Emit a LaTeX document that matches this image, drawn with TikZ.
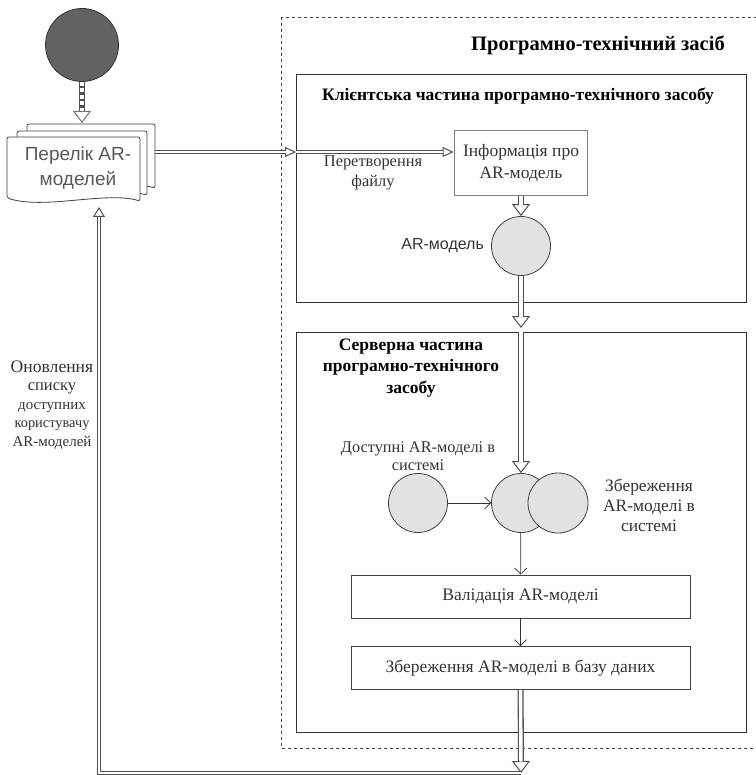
\documentclass[tikz,border=0pt]{standalone}
\usepackage{fontspec}
\setmainfont{Liberation Serif}
\newfontfamily\arialfont{Liberation Sans}
\usetikzlibrary{arrows.meta,positioning}
\definecolor{linegray}{HTML}{505050}
\definecolor{txtgray}{HTML}{333333}
\definecolor{storefill}{HTML}{E2E2E2}
\definecolor{srcfill}{HTML}{626262}
\tikzset{
  part/.style={draw=black!80,line width=.8pt,anchor=north west,inner sep=0pt},
  stepbox/.style={draw=black!75,line width=.8pt,minimum width=339pt,minimum height=43pt,text=txtgray,font=\fontsize{17.5}{20}\selectfont},
  store/.style={circle,draw=black!75,line width=.8pt,fill=storefill,minimum size=59pt,inner sep=0pt},
  flow/.style={draw=linegray,line width=1pt,-{Triangle[open,length=12pt,width=18pt]},
    preaction={draw=linegray,line width=6pt,-,shorten >=11.5pt},
    postaction={draw=white,line width=3.4pt,-,shorten >=11.5pt}},
  flowh/.style={draw=linegray,line width=1pt,-{Triangle[open,length=11pt,width=10pt]},
    preaction={draw=linegray,line width=4pt,-,shorten >=10.5pt},
    postaction={draw=white,line width=1.8pt,-,shorten >=10.5pt}},
  ctrl/.style={draw=black!80,line width=.7pt,-{Straight Barb[length=6pt,width=12pt]}},
  lbl/.style={text=txtgray,align=center,inner sep=0pt},
  doc/.style={draw=black!75,line width=.8pt,fill=white,rounded corners=2pt}
}
\begin{document}
\begin{tikzpicture}[x=1pt,y=-1pt]
\useasboundingbox (0,0) rectangle (755,775);
\draw [dashed,black!75,line width=.8pt] (281,17) rectangle (790,748);
\node [font=\bfseries\fontsize{20.5}{24}\selectfont] (tool) at (598,45) {Програмно-технічний засіб};
\node [part,minimum width=450pt,minimum height=228pt] (client) at (296,74) {};
\node [part,minimum width=450pt,minimum height=400pt] (server) at (296,332) {};
\node [font=\bfseries\fontsize{17.5}{20}\selectfont] (clienttitle) at (518,96) {Клієнтська частина програмно-технічного засобу};
\node [font=\bfseries\fontsize{17.5}{21.5}\selectfont,align=center] (servertitle) at (411,368) {Серверна частина\\програмно-технічного\\засобу};
\node [draw=black!50,line width=1.8pt,minimum width=133pt,minimum height=65pt,align=center,text=txtgray,font=\fontsize{17.5}{22}\selectfont] (info) at (521,163) {Інформація про\\AR-модель};
\node [store] (model) at (521,246) {};
\node [lbl,left=7pt of model,font=\arialfont\fontsize{16}{18}\selectfont] (modeltxt) {AR-модель};
\node [store] (avail) at (418,503) {};
\node [store] (save1) at (521,503) {};
\node [store,minimum size=60pt] (save2) at (558,503) {};
\node [lbl,font=\fontsize{16.3}{18}\selectfont] (availtxt) at (418,456) {Доступні AR-моделі в\\системі};
\node [lbl,font=\fontsize{17.4}{20}\selectfont] (savetxt) at (649,505) {Збереження\\AR-моделі в\\системі};
\node [stepbox] (valid) at (520.5,596.5) {Валідація AR-моделі};
\node [stepbox] (db) at (520.5,668) {Збереження AR-моделі в базу даних};
\node [circle,draw=black!80,line width=.8pt,fill=srcfill,minimum size=73pt,inner sep=0pt] (src) at (82,45) {};
\draw [doc] (27,124) -- (155,124) -- (155,188) .. controls (125,180) and (60,196) .. (27,186) -- cycle;
\draw [doc] (17,131) -- (147,131) -- (147,195) .. controls (115,187) and (50,203) .. (17,193) -- cycle;
\draw [doc] (7,137) -- (140,137) -- (140,201) .. controls (105,191) and (45,210) .. (7,198) -- cycle;
\node [lbl,text=black!65,font=\arialfont\fontsize{19}{25}\selectfont] (perelik) at (78,168) {Перелік AR-\\моделей};
\node [lbl,font=\fontsize{16.4}{20}\selectfont] (convert) at (373,173) {Перетворення\\файлу};
\node [lbl,font=\fontsize{15}{18.5}\selectfont] (update) at (52,405) {{\fontsize{17.6}{18.5}\selectfont Оновлення}\\{\fontsize{16.5}{18.5}\selectfont списку}\\доступних\\{\fontsize{14.4}{18.5}\selectfont користувачу}\\AR-моделей};
\coordinate (doctop) at (82,123);
\coordinate (docout) at (155,152);
\coordinate (back) at (521,773);
\coordinate (ret) at (99,207);
\draw [flow,dash pattern=on 4pt off 2.5pt,draw=black!55] (src) -- (doctop);
\draw [flowh] (docout) -- (docout -| client.west);
\draw [flowh] (docout -| client.west) -- (docout -| info.west);
\draw [flow] (info) -- (model);
\draw [flow] (model) -- ([yshift=4pt]model |- server.north);
\draw [flow] (model |- server.north) -- (save1);
\draw [ctrl] (avail) -- (save1);
\draw [ctrl] (save1) -- (valid);
\draw [ctrl] (valid) -- (db);
\draw [flow] (db) -- (back);
\draw [flowh,-{Triangle[open,length=10pt,width=12pt]}] (back) -- (back -| ret) -- (ret);
\end{tikzpicture}
\end{document}
